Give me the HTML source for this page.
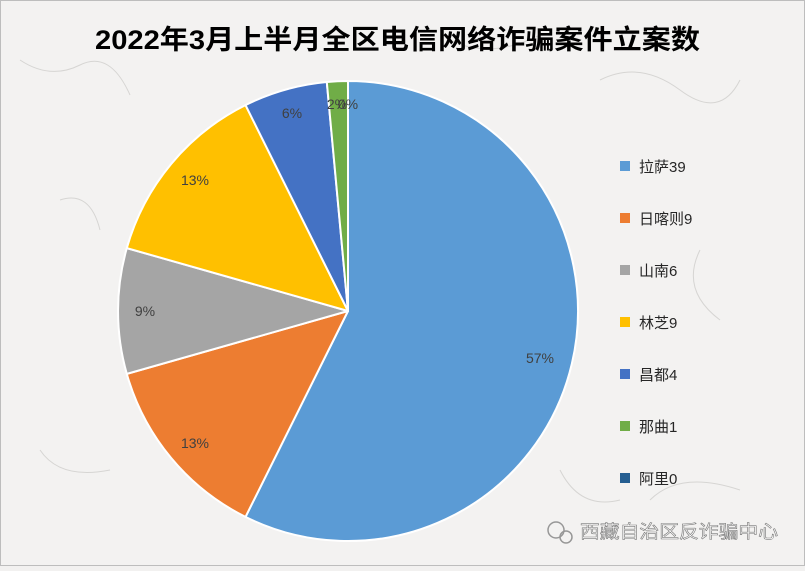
<!DOCTYPE html>
<html><head><meta charset="utf-8"><style>
html,body{margin:0;padding:0;}
body{width:805px;height:566px;overflow:hidden;background:#f2f1f0;font-family:"Liberation Sans","Noto Sans CJK SC",sans-serif;}
</style></head><body>
<svg width="805" height="566" viewBox="0 0 805 566" xmlns="http://www.w3.org/2000/svg">
<rect x="0.5" y="0.5" width="804" height="565" fill="#f3f2f1" stroke="#bdbdbd"/>
<g fill="none" stroke="#d6d5d3" stroke-width="1">
<path d="M20 60 q30 20 60 5 t50 30"/><path d="M600 80 q40 -20 80 10 t60 -10"/><path d="M40 450 q20 30 70 20"/><path d="M650 500 q30 -30 90 -10"/><path d="M700 250 q-20 40 20 70"/><path d="M60 200 q30 -10 40 30"/><path d="M450 40 q40 20 90 -5"/><path d="M560 470 q20 40 60 30"/>
</g>
<text x="95" y="49" textLength="605" lengthAdjust="spacingAndGlyphs" font-size="27" font-weight="bold" fill="#000" font-family="Liberation Sans,'Noto Sans CJK SC',sans-serif">2022年3月上半月全区电信网络诈骗案件立案数</text>
<g stroke="#fff" stroke-width="2" stroke-linejoin="round">
<path d="M348 311 L348 81 A230 230 0 1 1 245.5 516.9 Z" fill="#5b9bd5"/>
<path d="M348 311 L245.5 516.9 A230 230 0 0 1 126.8 373.9 Z" fill="#ed7d31"/>
<path d="M348 311 L126.8 373.9 A230 230 0 0 1 126.8 248.1 Z" fill="#a5a5a5"/>
<path d="M348 311 L126.8 248.1 A230 230 0 0 1 245.5 105.1 Z" fill="#ffc000"/>
<path d="M348 311 L245.5 105.1 A230 230 0 0 1 326.8 82 Z" fill="#4472c4"/>
<path d="M348 311 L326.8 82 A230 230 0 0 1 348 81 Z" fill="#70ad47"/>
</g>
<g font-size="14" fill="#404040" text-anchor="middle">
<text x="540" y="363">57%</text>
<text x="195" y="448">13%</text>
<text x="145" y="316">9%</text>
<text x="195" y="185">13%</text>
<text x="292" y="118">6%</text>
<text x="337" y="109">2%</text>
<text x="348" y="109">0%</text>
</g>
<g font-size="15" fill="#262626">
<rect x="620" y="161" width="10" height="10" fill="#5b9bd5"/><text x="639" y="172">拉萨39</text>
<rect x="620" y="213" width="10" height="10" fill="#ed7d31"/><text x="639" y="224">日喀则9</text>
<rect x="620" y="265" width="10" height="10" fill="#a5a5a5"/><text x="639" y="276">山南6</text>
<rect x="620" y="317" width="10" height="10" fill="#ffc000"/><text x="639" y="328">林芝9</text>
<rect x="620" y="369" width="10" height="10" fill="#4472c4"/><text x="639" y="380">昌都4</text>
<rect x="620" y="421" width="10" height="10" fill="#70ad47"/><text x="639" y="432">那曲1</text>
<rect x="620" y="473" width="10" height="10" fill="#255e91"/><text x="639" y="484">阿里0</text>
</g>
<g opacity="0.85">
<circle cx="556" cy="530" r="8" fill="none" stroke="#888" stroke-width="1.5"/>
<circle cx="566" cy="537" r="6" fill="none" stroke="#888" stroke-width="1.5"/>
<text x="580" y="538" textLength="198" lengthAdjust="spacingAndGlyphs" font-size="18" fill="#fff" stroke="#666" stroke-width="0.6">西藏自治区反诈骗中心</text>
</g>
</svg>
</body></html>
